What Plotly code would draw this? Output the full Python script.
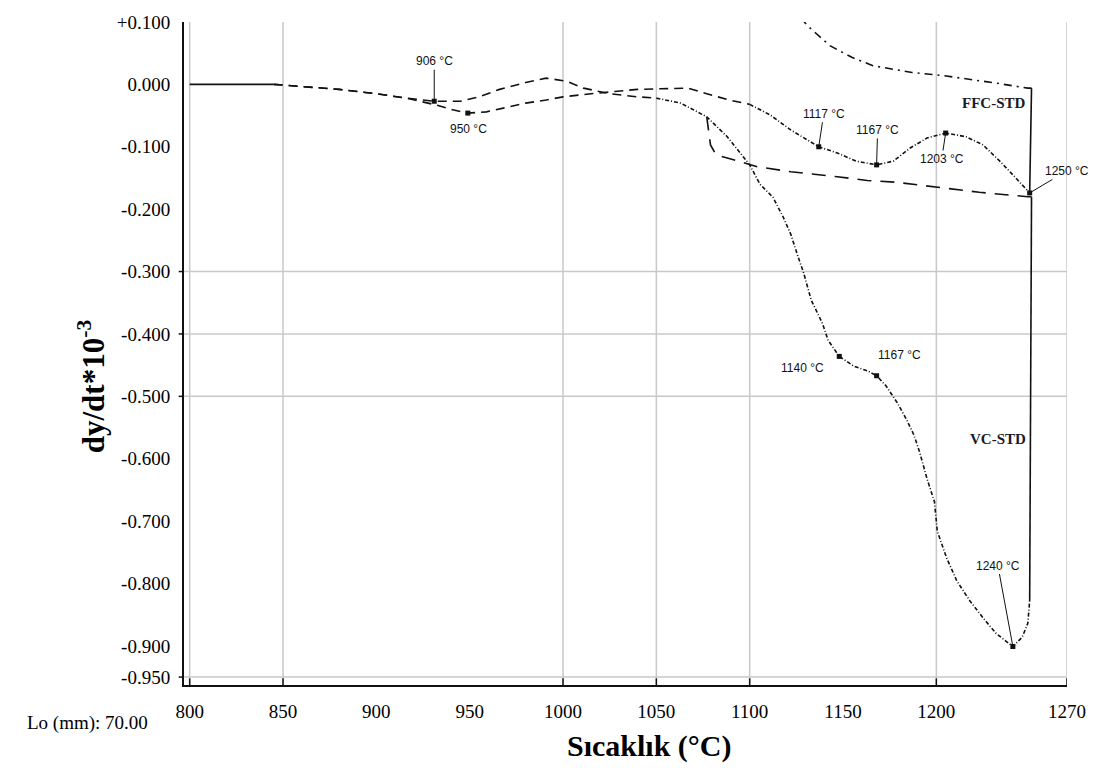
import plotly.graph_objects as go

# ---------------- data ----------------
x_tickvals = [800, 850, 900, 950, 1000, 1050, 1100, 1150, 1200, 1270]
x_ticktext = ["800", "850", "900", "950", "1000", "1050", "1100", "1150", "1200", "1270"]
y_tickvals = [0.1, 0.0, -0.1, -0.2, -0.3, -0.4, -0.5, -0.6, -0.7, -0.8, -0.9, -0.95]
y_ticktext = ["+0.100", "0.000", "-0.100", "-0.200", "-0.300", "-0.400", "-0.500",
              "-0.600", "-0.700", "-0.800", "-0.900", "-0.950"]
x_grid = [800, 850, 1000, 1050, 1100, 1200, 1270]
y_grid = [-0.3, -0.4, -0.5, -0.95]

# common solid start
start_x = [800, 845]
start_y = [0.0, 0.0]

# VC-STD heating
vc_heat_x = [845, 860, 880, 900, 916, 931, 945, 955, 966, 980, 991, 1002, 1011, 1025, 1040,
             1050, 1063, 1072, 1077, 1088, 1095, 1100, 1105.5, 1112.5, 1118, 1122, 1126, 1129,
             1133, 1139, 1142, 1148, 1156, 1163, 1168, 1173, 1179, 1184, 1188, 1191, 1195, 1199,
             1200.5, 1205.5, 1211, 1218, 1225, 1232, 1241, 1246, 1249, 1250]
vc_heat_y = [0.0, -0.003, -0.008, -0.015, -0.022, -0.027, -0.027, -0.020, -0.008, 0.003, 0.010,
             0.005, -0.006, -0.015, -0.020, -0.022, -0.030, -0.044, -0.052, -0.084, -0.110, -0.129,
             -0.160, -0.181, -0.213, -0.240, -0.277, -0.303, -0.346, -0.383, -0.410, -0.436,
             -0.452, -0.459, -0.467, -0.483, -0.510, -0.537, -0.562, -0.589, -0.632, -0.669,
             -0.716, -0.759, -0.796, -0.828, -0.855, -0.880, -0.901, -0.886, -0.864, -0.828]
# VC-STD cooling
vc_cool_x = [1251, 1249, 1223, 1200, 1179, 1163, 1147, 1122, 1104, 1088, 1082, 1079, 1078, 1077]
vc_cool_y = [-0.180, -0.180, -0.173, -0.165, -0.157, -0.154, -0.148, -0.140, -0.132, -0.118,
             -0.113, -0.097, -0.076, -0.052]

# FFC-STD heating
ffc_heat_x = [845, 860, 880, 900, 916, 932, 940, 949, 959, 968, 980, 991, 1000, 1015, 1027, 1040,
              1052, 1067, 1077, 1089, 1100, 1111, 1122, 1131, 1137, 1147, 1157, 1168, 1177, 1186,
              1195, 1205, 1216, 1225, 1234, 1241, 1248, 1250]
ffc_heat_y = [0.0, -0.003, -0.008, -0.015, -0.022, -0.033, -0.040, -0.046, -0.044, -0.038, -0.030,
              -0.025, -0.020, -0.015, -0.012, -0.008, -0.007, -0.006, -0.015, -0.025, -0.032,
              -0.049, -0.073, -0.089, -0.100, -0.110, -0.123, -0.129, -0.123, -0.102, -0.086,
              -0.078, -0.084, -0.097, -0.123, -0.145, -0.168, -0.174]
# FFC-STD cooling
ffc_cool_x = [1251, 1249, 1232, 1204, 1187, 1166, 1155, 1143, 1131, 1125]
ffc_cool_y = [-0.006, -0.006, 0.002, 0.014, 0.019, 0.030, 0.043, 0.062, 0.094, 0.115]

# peak markers
peak_labels = ["906 °C", "950 °C", "1117 °C", "1167 °C", "1203 °C", "1250 °C",
               "1140 °C", "1167 °C", "1240 °C"]
peak_x = [931, 949, 1137, 1168, 1205, 1250, 1148, 1168, 1241]
peak_y = [-0.027, -0.046, -0.100, -0.129, -0.078, -0.174, -0.436, -0.467, -0.901]

series_names = ["FFC-STD", "VC-STD"]

# ---------------- styles ----------------
label_offsets = [(0, -40), (1, 16), (5, -33), (1, -35), (-4, 26), (37, -22), (-37, 12), (23, -21), (-15, -81)]
label_arrows = [True, False, True, True, True, True, False, False, True]
LW = 1.6
BLACK = "#111111"


def split(xs, ys, at):
    a = [(x, y) for x, y in zip(xs, ys) if x <= at]
    b = [(x, y) for x, y in zip(xs, ys) if x >= at]
    return ([p[0] for p in a], [p[1] for p in a]), ([p[0] for p in b], [p[1] for p in b])


fig = go.Figure()


def add_line(xs, ys, dash):
    fig.add_trace(go.Scatter(x=xs, y=ys, mode="lines", showlegend=False, hoverinfo="skip",
                             line=dict(color=BLACK, width=LW, dash=dash)))


# solid start
add_line(start_x, start_y, "solid")

# VC-STD
(vx1, vy1), (vx2, vy2) = split(vc_heat_x, vc_heat_y, 1050)
add_line(vx1, vy1, "9px,6px")
add_line(vx2, vy2, "4px,2px,1px,2px")
add_line([vc_heat_x[-1], vc_cool_x[0]], [vc_heat_y[-1], vc_cool_y[0]], "solid")
add_line(vc_cool_x, vc_cool_y, "14px,9px")

# FFC-STD
(fx1, fy1), (fx2, fy2) = split(ffc_heat_x, ffc_heat_y, 1100)
add_line(fx1, fy1, "9px,6px")
add_line(fx2, fy2, "4px,2px,1px,2px")
add_line([ffc_heat_x[-1], ffc_cool_x[0]], [ffc_heat_y[-1], ffc_cool_y[0]], "solid")
add_line(ffc_cool_x, ffc_cool_y, "8px,5px,2px,5px")

# peak markers
fig.add_trace(go.Scatter(x=peak_x, y=peak_y, mode="markers", showlegend=False, hoverinfo="skip",
                         marker=dict(symbol="square", size=5, color=BLACK)))

# gridlines and tick marks as shapes
shapes = []
for gx in x_grid:
    shapes.append(dict(type="line", xref="x", yref="paper", x0=gx, x1=gx, y0=0, y1=1,
                       line=dict(color="#c8c8c8", width=1.5), layer="below"))
    shapes.append(dict(type="line", xref="x", yref="paper", x0=gx, x1=gx, y0=0, y1=0.01,
                       line=dict(color=BLACK, width=1.5), layer="above"))
for gy in y_grid:
    shapes.append(dict(type="line", xref="paper", yref="y", x0=0, x1=1, y0=gy, y1=gy,
                       line=dict(color="#c8c8c8", width=1.5), layer="below"))
    shapes.append(dict(type="line", xref="paper", yref="y", x0=-0.006, x1=0, y0=gy, y1=gy,
                       line=dict(color=BLACK, width=1.5), layer="above"))

annotations = []
for lab, px, py, (ax, ay), arr in zip(peak_labels, peak_x, peak_y, label_offsets, label_arrows):
    annotations.append(dict(x=px, y=py, xref="x", yref="y", text=lab, showarrow=True,
                            ax=ax, ay=ay, arrowhead=0, arrowwidth=1,
                            arrowcolor=BLACK if arr else "rgba(0,0,0,0)",
                            font=dict(family="Liberation Sans", size=12, color=BLACK)))

# series labels
annotations.append(dict(x=1249, y=-0.030, xref="x", yref="y", text="<b>" + series_names[0] + "</b>",
                        showarrow=False, xanchor="right",
                        font=dict(family="Liberation Serif", size=15, color="#1a1a2a")))
annotations.append(dict(x=1249, y=-0.569, xref="x", yref="y", text="<b>" + series_names[1] + "</b>",
                        showarrow=False, xanchor="right",
                        font=dict(family="Liberation Serif", size=15, color="#1a1a2a")))

# axis titles and note
annotations.append(dict(x=-0.129, y=0.45, xref="paper", yref="paper", textangle=-90,
                        text="<b>dy/dt*10<sup>-3</sup></b>", showarrow=False,
                        font=dict(family="Liberation Serif", size=31, color="black")))
annotations.append(dict(x=0.527, y=-0.121, xref="paper", yref="paper",
                        text="<b>Sıcaklık (°C)</b>", showarrow=False,
                        font=dict(family="Liberation Serif", size=30, color="black")))
annotations.append(dict(x=-0.18, y=-0.077, xref="paper", yref="paper", xanchor="left",
                        text="Lo (mm): 70.00", showarrow=False,
                        font=dict(family="Liberation Serif", size=19, color="black")))

fig.update_layout(
    width=1104, height=782,
    margin=dict(l=184, r=37, t=16, b=97),
    paper_bgcolor="white", plot_bgcolor="white",
    shapes=shapes, annotations=annotations,
    showlegend=False,
)
fig.update_xaxes(range=[796.95, 1270], tickmode="array", tickvals=x_tickvals, ticktext=x_ticktext,
                 showgrid=False, zeroline=False, showline=True, linecolor=BLACK, linewidth=2,
                 ticks="", ticklabelstandoff=8,
                 tickfont=dict(family="Liberation Serif", size=19, color="black"))
fig.update_yaxes(range=[-0.9627, 0.1], tickmode="array", tickvals=y_tickvals, ticktext=y_ticktext,
                 showgrid=False, zeroline=False, showline=True, linecolor=BLACK, linewidth=2,
                 ticks="", ticklabelstandoff=8,
                 tickfont=dict(family="Liberation Serif", size=19, color="black"))

fig.write_html("out.html")
